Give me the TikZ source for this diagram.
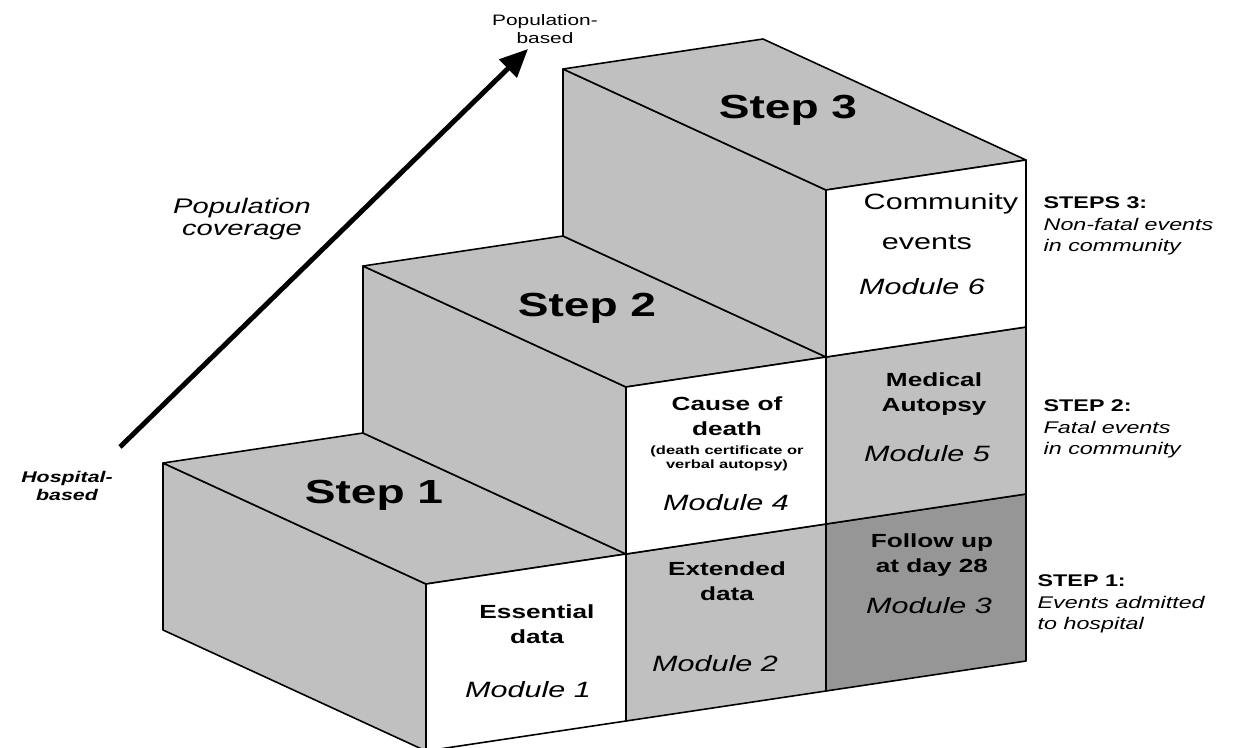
\documentclass[tikz,border=0pt]{standalone}
\usepackage{fontspec}
\setmainfont[FakeStretch=1.38]{Liberation Sans}
\usetikzlibrary{arrows.meta}
\tikzset{>=stealth}

\definecolor{stepgray}{RGB}{192,192,192}
\definecolor{stepdark}{RGB}{150,150,150}

\tikzset{
  face/.style={draw=black, line width=0.45pt, line join=round},
  steptitle/.style={font=\bfseries\fontsize{9.5}{12}\selectfont, inner sep=0pt},
  celltext/.style={font=\bfseries\fontsize{5.4}{7}\selectfont, align=center, inner sep=0pt},
  modname/.style={font=\itshape\fontsize{6.3}{7.5}\selectfont, inner sep=0pt},
  sidenote/.style={font=\fontsize{4.8}{6.1}\selectfont, align=left, anchor=west, inner sep=0pt},
}

\begin{document}
\begin{tikzpicture}[x=0.01cm, y=-0.01cm]
  \useasboundingbox (0,0) rectangle (1238,748);
  \clip (0,0) rectangle (1238,748);

  % front corners f<col><row>, back corners b<col><row>
  \foreach \i in {0,...,3}
    \foreach \j in {0,...,3} {
      \coordinate (f\i\j) at ({426+200*\i}, {751-30*\i-167*\j});
      \coordinate (b\i\j) at ({163+200*\i}, {630-30*\i-167*\j});
    }

  % step 1
  \filldraw[face, fill=stepgray] (b00) -- (b01) -- (f01) -- (f00) -- cycle;
  \filldraw[face, fill=stepgray] (b01) -- (b11) -- (f11) -- (f01) -- cycle;
  % step 2
  \filldraw[face, fill=stepgray] (b11) -- (b12) -- (f12) -- (f11) -- cycle;
  \filldraw[face, fill=stepgray] (b12) -- (b22) -- (f22) -- (f12) -- cycle;
  % step 3
  \filldraw[face, fill=stepgray] (b22) -- (b23) -- (f23) -- (f22) -- cycle;
  \filldraw[face, fill=stepgray] (b23) -- (b33) -- (f33) -- (f23) -- cycle;

  % front cells
  \filldraw[face, fill=white]    (f00) -- (f10) -- (f11) -- (f01) -- cycle;
  \filldraw[face, fill=stepgray] (f10) -- (f20) -- (f21) -- (f11) -- cycle;
  \filldraw[face, fill=stepdark] (f20) -- (f30) -- (f31) -- (f21) -- cycle;
  \filldraw[face, fill=white]    (f11) -- (f21) -- (f22) -- (f12) -- cycle;
  \filldraw[face, fill=stepgray] (f21) -- (f31) -- (f32) -- (f22) -- cycle;
  \filldraw[face, fill=white]    (f22) -- (f32) -- (f33) -- (f23) -- cycle;

  \node[steptitle] (stepone)   at (374,495) {Step 1};
  \node[steptitle] (steptwo)   at (587,308) {Step 2};
  \node[steptitle] (stepthree) at (788,110) {Step 3};

  % module texts
  \node[celltext] (essential) at (537,624) {Essential\\data};
  \node[modname]  (modone)    at (528,690) {Module 1};
  \node[celltext] (extended)  at (727,581) {Extended\\data};
  \node[modname]  (modtwo)    at (715,664) {Module 2};
  \node[celltext] (followup)  at (932,555) {Follow up\\at day 28};
  \node[modname]  (modthree)  at (929,606) {Module 3};
  \node[celltext] (cause)     at (727,416) {Cause of\\death};
  \node[celltext, font=\bfseries\fontsize{3.4}{4}\selectfont] (causenote) at (727,458)
    {(death certificate or\\verbal autopsy)};
  \node[modname]  (modfour)   at (726,503) {Module 4};
  \node[celltext] (autopsy)   at (934,394) {Medical\\Autopsy};
  \node[modname]  (modfive)   at (927,454) {Module 5};
  \node[modname, font=\fontsize{6.3}{7.5}\selectfont] (community) at (941,204) {Community};
  \node[modname, font=\fontsize{6.3}{7.5}\selectfont] (events)    at (927,242) {events};
  \node[modname]  (modsix)    at (922,287) {Module 6};

  % notes on the right
  \node[sidenote] (notethree) at (1043,226)
    {\textbf{STEPS 3:}\\\textit{Non-fatal events}\\\textit{in community}};
  \node[sidenote] (notetwo) at (1043,429)
    {\textbf{STEP 2:}\\\textit{Fatal events}\\\textit{in community}};
  \node[sidenote] (noteone) at (1037,604)
    {\textbf{STEP 1:}\\\textit{Events admitted}\\\textit{to hospital}};

  % coverage arrow
  \coordinate (hospital) at (120,447);
  \coordinate (population) at (528,49);
  \draw[-{Triangle[length=8pt, width=7pt]}, line width=1.4pt] (hospital) -- (population);
  \node[font=\bfseries\itshape\fontsize{4.4}{5.1}\selectfont, align=center, inner sep=0pt]
    (hosplabel) at (67,486) {Hospital-\\based};
  \node[font=\fontsize{4.3}{5.1}\selectfont, align=center, inner sep=0pt]
    (poplabel) at (545,29) {Population-\\based};
  \node[font=\itshape\fontsize{6}{6.4}\selectfont, align=center, inner sep=0pt]
    (coverage) at (242,219) {Population\\coverage};
\end{tikzpicture}
\end{document}
